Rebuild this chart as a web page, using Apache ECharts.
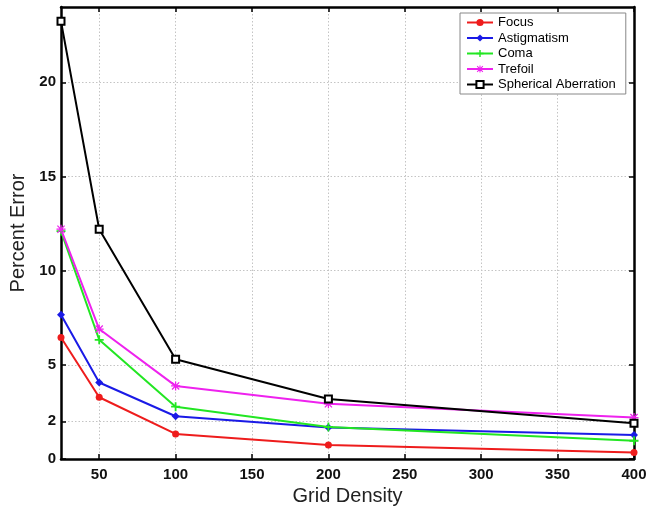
<!DOCTYPE html>
<html>
<head>
<meta charset="utf-8">
<script src="https://cdn.jsdelivr.net/npm/echarts@6/dist/echarts.min.js"></script>
<style>
  html, body { margin: 0; padding: 0; background: #fff; }
  #chart { width: 648px; height: 510px; }
</style>
</head>
<body>
<div id="chart"></div>
<script>
(function () {
    // grid densities on the x axis
    const gridDensity = [25, 50, 100, 200, 400];

    const focus = [6.45, 3.28, 1.33, 0.74, 0.34];
    const astigmatism = [7.66, 4.06, 2.27, 1.67, 1.28];
    const coma = [12.1, 6.33, 2.78, 1.7, 0.97];
    const trefoil = [12.2, 6.9, 3.88, 2.93, 2.2];
    const spherical = [23.24, 12.2, 5.3, 3.19, 1.9];

    const xTicks = [50, 100, 150, 200, 250, 300, 350, 400];
    const yTicks = [0, 2, 5, 10, 15, 20];

    const font = '"Liberation Sans", Arial, sans-serif';

    const plusPath = 'path://M4,0H6V4H10V6H6V10H4V6H0V4H4Z';
    const starPath = 'path://M4.3,0H5.7V4.3H10V5.7H5.7V10H4.3V5.7H0V4.3H4.3Z' +
        'M1.5,0.5L9.5,8.5L8.5,9.5L0.5,1.5Z M8.5,0.5L9.5,1.5L1.5,9.5L0.5,8.5Z';

    function pairs(values) {
        return gridDensity.map(function (x, i) {
            return [x, values[i]];
        });
    }

    function makeSeries(name, values, color, symbol, size, extra) {
        return Object.assign({
            name: name,
            type: 'line',
            data: pairs(values),
            symbol: symbol,
            symbolSize: size,
            showAllSymbol: true,
            lineStyle: { color: color, width: 2 },
            itemStyle: { color: color },
            emphasis: { disabled: true },
            animation: false
        }, extra || {});
    }

    const chart = echarts.init(document.getElementById('chart'), null, { renderer: 'canvas' });

    const gridLine = { show: true, lineStyle: { color: '#c4c4c4', type: [1.5, 2], width: 1 } };
    const frame = { color: '#000', width: 2.5 };

    const option = {
        backgroundColor: '#ffffff',
        animation: false,
        textStyle: { fontFamily: font },
        grid: { left: 61, top: 7, right: 14, bottom: 51, outerBoundsMode: 'none' },
        legend: {
            orient: 'vertical',
            left: 460,
            top: 13,
            padding: [3, 10, 3, 6],
            itemWidth: 26,
            itemHeight: 9,
            itemGap: 2.5,
            backgroundColor: '#ffffff',
            borderColor: '#888888',
            borderWidth: 1,
            borderRadius: 0,
            textStyle: { fontSize: 13, color: '#000', fontFamily: font },
            data: ['Focus', 'Astigmatism', 'Coma', 'Trefoil', 'Spherical Aberration']
        },
        xAxis: [
            {
                type: 'value',
                min: 25,
                max: 400,
                name: 'Grid Density',
                nameLocation: 'middle',
                nameGap: 26,
                nameTextStyle: { fontSize: 20, color: '#222', fontFamily: font },
                axisLine: { lineStyle: frame },
                axisTick: { inside: true, length: 5, customValues: xTicks, lineStyle: { color: '#000', width: 1.5 } },
                axisLabel: { customValues: xTicks, margin: 8, fontSize: 15, fontWeight: 'bold', color: '#111', fontFamily: font },
                splitLine: gridLine
            },
            {
                type: 'value',
                position: 'top',
                min: 25,
                max: 400,
                axisLine: { show: true, onZero: false, lineStyle: frame },
                axisTick: { inside: true, length: 5, customValues: xTicks, lineStyle: { color: '#000', width: 1.5 } },
                axisLabel: { show: false },
                splitLine: { show: false }
            }
        ],
        yAxis: [
            {
                type: 'value',
                min: 0,
                max: 24,
                name: 'Percent Error',
                nameLocation: 'middle',
                nameGap: 27,
                nameTextStyle: { fontSize: 20, color: '#222', fontFamily: font },
                axisLine: { show: true, lineStyle: frame },
                axisTick: { show: true, inside: true, length: 5, customValues: yTicks, lineStyle: { color: '#000', width: 1.5 } },
                axisLabel: { customValues: yTicks, margin: 5, fontSize: 15, fontWeight: 'bold', color: '#111', fontFamily: font },
                splitLine: gridLine
            },
            {
                type: 'value',
                position: 'right',
                min: 0,
                max: 24,
                axisLine: { show: true, onZero: false, lineStyle: frame },
                axisTick: { show: true, inside: true, length: 5, customValues: yTicks, lineStyle: { color: '#000', width: 1.5 } },
                axisLabel: { show: false },
                splitLine: { show: false }
            }
        ],
        series: [
            makeSeries('Focus', focus, '#ee1c1c', 'circle', 7),
            makeSeries('Astigmatism', astigmatism, '#1a1ae6', 'diamond', 8),
            makeSeries('Coma', coma, '#22e622', plusPath, 9),
            makeSeries('Trefoil', trefoil, '#ee22ee', starPath, 9),
            makeSeries('Spherical Aberration', spherical, '#000000', 'emptyRect', 7, {
                itemStyle: { color: '#000', borderColor: '#000', borderWidth: 1.5 }
            })
        ]
    };

    chart.setOption(option);
}());
</script>
</body>
</html>
